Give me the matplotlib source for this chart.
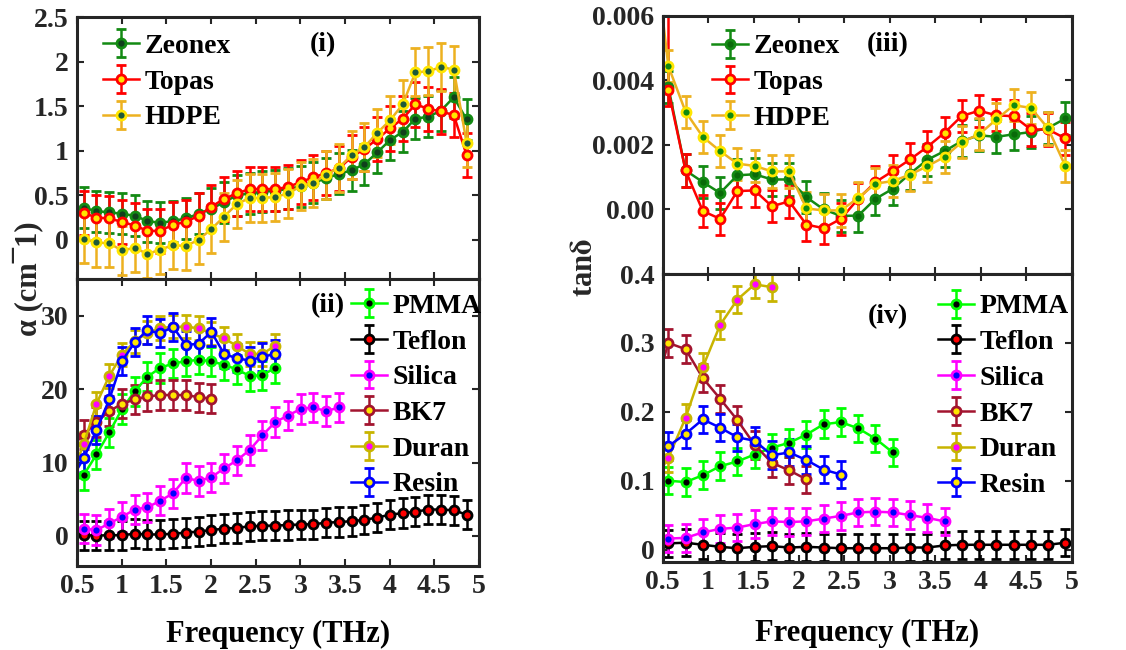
import matplotlib.pyplot as plt

plt.rcParams['font.family'] = ['Liberation Serif', 'DejaVu Serif']
plt.rcParams['font.weight'] = 'bold'
plt.rcParams['axes.labelweight'] = 'bold'
plt.rcParams['mathtext.fontset'] = 'stix'

# frequency grids (THz)
freq_a = [0.575, 0.718, 0.861, 1.004, 1.146, 1.289, 1.432, 1.575, 1.718, 1.861,
          2.004, 2.146, 2.289, 2.432, 2.575, 2.718, 2.861, 3.004, 3.146, 3.289,
          3.432, 3.575, 3.718, 3.861, 4.004, 4.146, 4.289, 4.432, 4.575, 4.718, 4.861]
freq_t = [0.562, 0.752, 0.942, 1.132, 1.322, 1.512, 1.702, 1.892, 2.082, 2.272,
          2.462, 2.652, 2.842, 3.032, 3.222, 3.412, 3.602, 3.792, 3.982, 4.172,
          4.362, 4.552, 4.742, 4.932]
lead_a = 0.432
lead_t = 0.372

# (i) absorption of polymers, cm^-1
zeonex_a = [0.36, 0.32, 0.31, 0.29, 0.27, 0.21, 0.19, 0.21, 0.24, 0.29, 0.35, 0.42, 0.50,
            0.52, 0.54, 0.55, 0.57, 0.60, 0.64, 0.69, 0.74, 0.78, 0.85, 0.98, 1.12, 1.21,
            1.36, 1.38, 1.45, 1.60, 1.35]
topas_a = [0.30, 0.25, 0.24, 0.20, 0.16, 0.10, 0.10, 0.17, 0.20, 0.27, 0.37, 0.46, 0.52,
           0.57, 0.57, 0.57, 0.59, 0.65, 0.70, 0.75, 0.80, 0.93, 1.02, 1.13, 1.25, 1.36,
           1.52, 1.47, 1.44, 1.40, 0.95]
hdpe_a = [0.01, -0.03, -0.04, -0.12, -0.09, -0.16, -0.11, -0.06, -0.07, 0.00, 0.12, 0.26,
          0.40, 0.47, 0.47, 0.48, 0.52, 0.60, 0.64, 0.73, 0.81, 0.95, 1.04, 1.20, 1.34,
          1.52, 1.88, 1.89, 1.94, 1.91, 1.09]
zeonex_a_err = 0.23
topas_a_err = 0.25
hdpe_a_err = 0.27

# (ii) absorption of glasses / others, cm^-1
pmma_a = [8.3, 11.1, 14.1, 17.3, 19.7, 21.7, 22.9, 23.5, 23.8, 24.0, 23.8, 23.3, 22.7,
          21.8, 21.9, 22.9]
teflon_a = [0.1, 0.05, 0.1, 0.1, 0.3, 0.2, 0.2, 0.3, 0.45, 0.6, 0.8, 1.0, 1.1, 1.3, 1.4,
            1.4, 1.5, 1.55, 1.6, 1.8, 1.9, 2.0, 2.2, 2.5, 2.9, 3.1, 3.3, 3.6, 3.6, 3.5, 2.9]
silica_a = [1.0, 0.8, 1.7, 2.6, 3.6, 3.9, 4.8, 5.8, 7.9, 7.5, 8.0, 9.2, 10.3, 11.7, 13.7,
            15.5, 16.4, 17.3, 17.5, 17.0, 17.5]
bk7_a = [13.8, 15.5, 17.0, 18.0, 18.6, 19.0, 19.2, 19.2, 19.2, 18.9, 18.7]
duran_a = [12.5, 18.0, 21.8, 24.7, 26.5, 27.7, 28.3, 28.5, 28.5, 28.3, 27.6, 26.9, 25.9,
           24.8, 24.8, 25.9]
resin_a = [10.6, 14.4, 18.6, 23.8, 26.4, 28.0, 27.6, 28.5, 26.0, 26.2, 27.8, 24.8, 24.2,
           23.9, 24.4, 24.8]
pmma_a_lead = 7.1
bk7_a_lead = 12.1
duran_a_lead = 8.0
resin_a_lead = 7.6
pmma_a_err = 2.0
teflon_a_err = 2.0
silica_a_err = 2.0
bk7_a_err = 2.0
duran_a_err = 1.6
resin_a_err = 1.9

# (iii) loss tangent of polymers
zeonex_t = [0.0038, 0.00121, 0.00085, 0.00051, 0.00106, 0.00109, 0.00093, 0.00093,
            0.00038, 0.0, -0.0002, -0.00019, 0.00033, 0.00064, 0.00111, 0.00154, 0.00181,
            0.00212, 0.0023, 0.00225, 0.00233, 0.0024, 0.00253, 0.00282]
topas_t = [0.0037, 0.00121, -0.00005, -0.00029, 0.00057, 0.00059, 0.0001, 0.00025,
           -0.00047, -0.00058, -0.00029, 0.00033, 0.00085, 0.00119, 0.00155, 0.00194,
           0.00238, 0.0029, 0.00306, 0.00292, 0.00289, 0.00248, 0.00248, 0.0022]
hdpe_t = [0.00445, 0.00303, 0.00225, 0.00181, 0.00142, 0.00135, 0.00118, 0.00118,
          0.00003, -0.00003, -0.00003, 0.00036, 0.0008, 0.00088, 0.00108, 0.00134, 0.00163,
          0.00209, 0.00233, 0.00279, 0.00323, 0.00315, 0.00251, 0.00134]
hdpe_t_lead = 0.0091
zeonex_t_err = 0.0005
topas_t_err_lo = 0.0005
topas_t_err_hi = [0.004, 0.0005, 0.0005, 0.0005, 0.0005, 0.0005, 0.0005, 0.0005, 0.0005,
                  0.0005, 0.0005, 0.0005, 0.0005, 0.0005, 0.0005, 0.0005, 0.0005, 0.0005,
                  0.0005, 0.0005, 0.0005, 0.0005, 0.0005, 0.0005]
hdpe_t_err = 0.0005

# (iv) loss tangent of glasses / others
pmma_t = [0.100, 0.098, 0.108, 0.121, 0.128, 0.138, 0.148, 0.155, 0.167, 0.182, 0.185,
          0.176, 0.161, 0.141]
teflon_t = [0.009, 0.010, 0.007, 0.004, 0.002, 0.004, 0.005, 0.003, 0.004, 0.003, 0.002,
            0.002, 0.002, 0.002, 0.003, 0.003, 0.006, 0.007, 0.007, 0.007, 0.007, 0.007,
            0.007, 0.010]
silica_t = [0.016, 0.017, 0.025, 0.030, 0.032, 0.037, 0.041, 0.040, 0.041, 0.045, 0.049,
            0.054, 0.055, 0.054, 0.050, 0.046, 0.041]
bk7_t = [0.300, 0.291, 0.249, 0.219, 0.188, 0.152, 0.126, 0.115, 0.102]
duran_t = [0.133, 0.191, 0.265, 0.326, 0.363, 0.385, 0.381]
resin_t = [0.150, 0.168, 0.189, 0.177, 0.163, 0.158, 0.137, 0.141, 0.130, 0.116, 0.109]
silica_t_lead = 0.03
bk7_t_lead = 0.21
duran_t_lead = 0.093
pmma_t_err = 0.02
teflon_t_err = 0.02
silica_t_err = 0.02
bk7_t_err = 0.02
duran_t_err = 0.02
resin_t_err = 0.02

FS = 20


def draw(ax, x, y, err, line, face, edge, label, lead=None, lead_x=None):
    if lead is not None:
        ax.plot([lead_x, x[0]], [lead, y[0]], color=line, lw=1.8)
    ax.errorbar(x, y, yerr=err, color=line, ecolor=line, lw=1.8, elinewidth=1.8,
                capsize=3.5, capthick=2.2, marker='o', ms=6.5, mfc=face, mec=edge,
                mew=2.0, label=label)


def style(ax, ylim, yticks, ylabels, show_x):
    ax.set_xlim(0.5, 5)
    ax.set_ylim(*ylim)
    ax.set_xticks([0.5, 1, 1.5, 2, 2.5, 3, 3.5, 4, 4.5, 5])
    if show_x:
        ax.set_xticklabels(['0.5', '1', '1.5', '2', '2.5', '3', '3.5', '4', '4.5', '5'])
    else:
        ax.set_xticklabels([])
    ax.set_yticks(yticks)
    ax.set_yticklabels(ylabels)
    ax.tick_params(direction='in', length=5, width=1.5, top=True, right=True,
                   labelsize=FS, pad=6, colors='#262626')
    for s in ax.spines.values():
        s.set_linewidth(2.2)
        s.set_color('#262626')


def legend(ax, x, y):
    ax.legend(loc='upper left', bbox_to_anchor=(x, y), frameon=False, fontsize=FS,
              handlelength=1.3, handletextpad=0.2, labelspacing=0.37, borderpad=0,
              borderaxespad=0)


fig = plt.figure(figsize=(11.26, 6.5), dpi=100)
ax1 = fig.add_axes([0.0684, 0.5708, 0.357, 0.403])
ax2 = fig.add_axes([0.0684, 0.1292, 0.357, 0.4415])
ax3 = fig.add_axes([0.5885, 0.5785, 0.3632, 0.397])
ax4 = fig.add_axes([0.5885, 0.1354, 0.3632, 0.443])

green = '#138a13'
hdpe_col = '#EDB120'
yel = '#FFE600'

# (i)
draw(ax1, freq_a, zeonex_a, zeonex_a_err, green, '#10401c', green, 'Zeonex')
draw(ax1, freq_a, topas_a, topas_a_err, 'red', yel, 'red', 'Topas')
draw(ax1, freq_a, hdpe_a, hdpe_a_err, hdpe_col, '#1d5a3a', yel, 'HDPE')
style(ax1, (-0.44, 2.5), [0, 0.5, 1, 1.5, 2, 2.5], ['0', '0.5', '1', '1.5', '2', '2.5'], False)
legend(ax1, 0.065, 0.937)
ax1.text(0.612, 0.893, '(i)', transform=ax1.transAxes, fontsize=FS, ha='center', va='center')

# (ii)
n = len(pmma_a)
draw(ax2, freq_a[:n], pmma_a, pmma_a_err, '#00FF00', 'black', '#00FF00', 'PMMA', pmma_a_lead, lead_a)
draw(ax2, freq_a, teflon_a, teflon_a_err, 'black', 'red', 'black', 'Teflon')
draw(ax2, freq_a[:len(silica_a)], silica_a, silica_a_err, 'magenta', 'blue', 'magenta', 'Silica')
draw(ax2, freq_a[:len(bk7_a)], bk7_a, bk7_a_err, '#A2142F', yel, '#A2142F', 'BK7', bk7_a_lead, lead_a)
draw(ax2, freq_a[:len(duran_a)], duran_a, duran_a_err, '#C8B400', 'magenta', '#C8B400', 'Duran',
     duran_a_lead, lead_a)
draw(ax2, freq_a[:len(resin_a)], resin_a, resin_a_err, 'blue', yel, 'blue', 'Resin', resin_a_lead, lead_a)
style(ax2, (-4.1, 35), [0, 10, 20, 30], ['0', '10', '20', '30'], True)
legend(ax2, 0.682, 0.950)
ax2.text(0.624, 0.909, '(ii)', transform=ax2.transAxes, fontsize=FS, ha='center', va='center')
ax2.set_xlabel('Frequency (THz)', fontsize=22, fontweight='bold', labelpad=15)

# (iii)
draw(ax3, freq_t, zeonex_t, zeonex_t_err, green, '#0a6a0a', green, 'Zeonex')
draw(ax3, freq_t, topas_t, [[topas_t_err_lo] * len(topas_t), topas_t_err_hi], 'red', yel, 'red', 'Topas')
draw(ax3, freq_t, hdpe_t, hdpe_t_err, hdpe_col, '#108a10', yel, 'HDPE', hdpe_t_lead, lead_t)
style(ax3, (-0.002, 0.006), [0, 0.002, 0.004, 0.006], ['0.00', '0.002', '0.004', '0.006'], False)
legend(ax3, 0.12, 0.930)
ax3.text(0.551, 0.888, '(iii)', transform=ax3.transAxes, fontsize=FS, ha='center', va='center')

# (iv)
draw(ax4, freq_t[:len(pmma_t)], pmma_t, pmma_t_err, '#00FF00', 'black', '#00FF00', 'PMMA')
draw(ax4, freq_t, teflon_t, teflon_t_err, 'black', 'red', 'black', 'Teflon')
draw(ax4, freq_t[:len(silica_t)], silica_t, silica_t_err, 'magenta', 'blue', 'magenta', 'Silica',
     silica_t_lead, lead_t)
draw(ax4, freq_t[:len(bk7_t)], bk7_t, bk7_t_err, '#A2142F', yel, '#A2142F', 'BK7', bk7_t_lead, lead_t)
draw(ax4, freq_t[:len(duran_t)], duran_t, duran_t_err, '#C8B400', 'magenta', '#C8B400', 'Duran',
     duran_t_lead, lead_t)
draw(ax4, freq_t[:len(resin_t)], resin_t, resin_t_err, 'blue', yel, 'blue', 'Resin')
style(ax4, (-0.018, 0.4), [0, 0.1, 0.2, 0.3, 0.4], ['0', '0.1', '0.2', '0.3', '0.4'], True)
legend(ax4, 0.673, 0.931)
ax4.text(0.551, 0.851, '(iv)', transform=ax4.transAxes, fontsize=FS, ha='center', va='center')
ax4.set_xlabel('Frequency (THz)', fontsize=22, fontweight='bold', labelpad=17)

fig.text(0.025, 0.572, 'α (cm¯1)', rotation=90, fontsize=22, ha='center', va='center',
         color='#262626')
fig.text(0.5195, 0.588, r'tan$\mathbf{\delta}$', rotation=90, fontsize=22, ha='center',
         va='center', color='#262626')

fig.savefig('out.png', dpi=100)
